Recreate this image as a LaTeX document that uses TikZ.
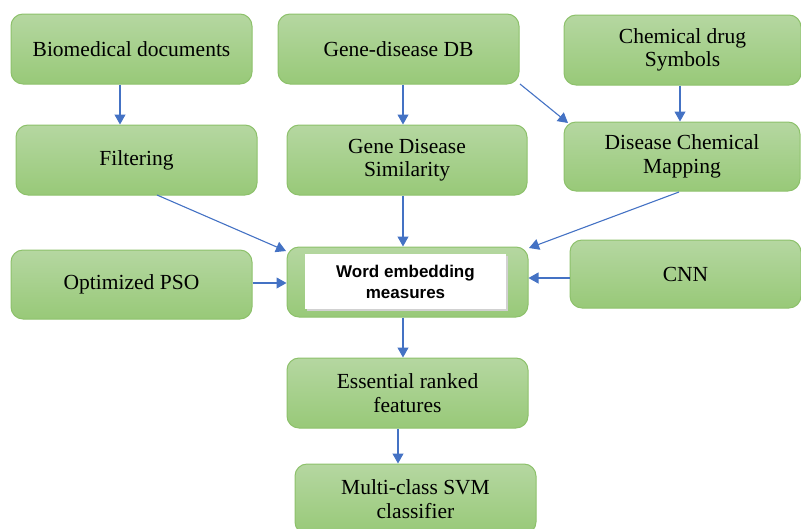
\documentclass[tikz,border=0pt]{standalone}
\usepackage{fontspec}
\setmainfont{Liberation Serif}
\newfontfamily\arialfont{Liberation Sans}
\usetikzlibrary{arrows.meta,calc}
\definecolor{gtop}{HTML}{B5D7A1}
\definecolor{gbot}{HTML}{98C978}
\definecolor{gborder}{HTML}{8DC16B}
\definecolor{arrblue}{HTML}{4472C4}
\tikzset{
  gbox/.style={rounded corners=12pt, draw=gborder, line width=1pt, top color=gtop, bottom color=gbot,
    align=center, inner sep=0pt, font=\fontsize{21.5}{23.5}\selectfont},
  arr/.style={draw=arrblue, line width=1.1pt, -{Triangle[width=11pt,length=10pt]}},
}
\begin{document}
\begin{tikzpicture}[x=1pt,y=-1pt]
\useasboundingbox (0,0) rectangle (801,528);
\clip (0,0) rectangle (801,528);
\node[gbox, minimum width=241pt, minimum height=70pt] (bio) at (131.5,49) {Biomedical documents};
\node[gbox, minimum width=241pt, minimum height=70pt] (gdb) at (398.5,49) {Gene-disease DB};
\node[gbox, minimum width=237pt, minimum height=70pt] (chem) at (682.5,50) {Chemical drug\\Symbols};
\node[gbox, minimum width=241pt, minimum height=70pt] (filt) at (136.5,160) {Filtering};
\node[gbox, minimum width=240pt, minimum height=70pt] (gds) at (407,160) {Gene Disease\\Similarity};
\node[gbox, minimum width=236pt, minimum height=69pt] (dcm) at (682,156.5) {Disease Chemical\\Mapping};
\node[gbox, minimum width=241pt, minimum height=69pt] (pso) at (131.5,284.5) {Optimized PSO};
\node[gbox, minimum width=241pt, minimum height=70pt] (we) at (407.5,282) {};
\fill[black!18] (307,256) rectangle (507.5,310.5);
\node[fill=white, minimum width=201pt, minimum height=55pt, inner sep=0pt, align=center,
  font=\arialfont\bfseries\fontsize{17}{21}\selectfont] (wet) at (405.5,281.5) {Word embedding\\measures};
\node[gbox, minimum width=231pt, minimum height=68pt] (cnn) at (685.5,274) {CNN};
\node[gbox, minimum width=241pt, minimum height=70pt] (ess) at (407.5,393) {Essential ranked\\features};
\node[gbox, minimum width=241pt, minimum height=70pt] (svm) at (415.5,499) {Multi-class SVM\\classifier};
% connectors
\coordinate (a1) at (120,0);
\coordinate (a2) at (403,0);
\coordinate (a3) at (680,0);
\coordinate (a4) at (398,0);
\draw[arr] (bio.south -| a1) -- (filt.north -| a1);
\draw[arr] (gdb.south -| a2) -- (gds.north -| a2);
\draw[arr] (chem.south -| a3) -- (dcm.north -| a3);
\coordinate (s1) at (520,84);
\coordinate (t1) at (568,123);
\draw[arr] (s1) -- (t1);
\coordinate (s2) at (157,195);
\coordinate (t2) at (286,251);
\draw[arr] (s2) -- (t2);
\draw[arr] (gds.south -| a2) -- (we.north -| a2);
\coordinate (s3) at (679,192);
\coordinate (t3) at (529,248);
\draw[arr] (s3) -- (t3);
\coordinate (y1) at (0,283);
\draw[arr] (pso.east |- y1) -- (we.west |- y1);
\coordinate (y2) at (0,278);
\draw[arr] (cnn.west |- y2) -- (we.east |- y2);
\draw[arr] (we.south -| a2) -- (ess.north -| a2);
\draw[arr] (ess.south -| a4) -- (svm.north -| a4);
\end{tikzpicture}
\end{document}
